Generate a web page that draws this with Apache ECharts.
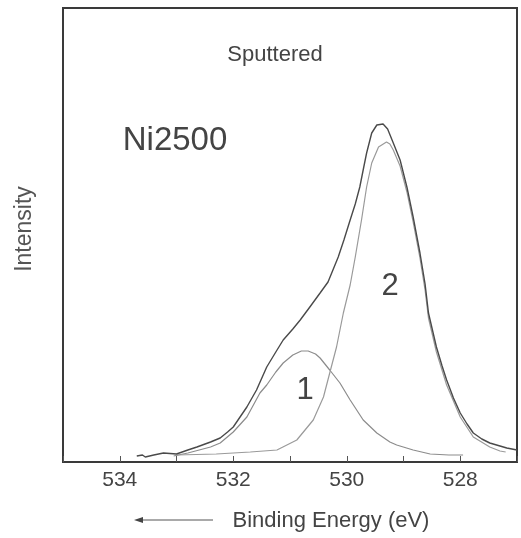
<!DOCTYPE html>
<html>
<head>
<meta charset="utf-8">
<script src="https://cdn.jsdelivr.net/npm/echarts@6/dist/echarts.min.js"></script>
<style>
html,body{margin:0;padding:0;background:#fff;}
#chart{width:521px;height:538px;}
</style>
</head>
<body>
<div id="chart"></div>
<script>
// Binding energy (eV) and intensity (arb. units)
var totalBE = [533.70,533.60,533.55,533.40,533.23,533.00,532.80,532.64,532.40,532.23,532.10,532.00,531.88,531.76,531.59,531.41,531.25,531.12,530.95,530.82,530.65,530.47,530.33,530.15,530.05,529.94,529.85,529.77,529.70,529.65,529.56,529.47,529.36,529.28,529.18,529.06,528.94,528.83,528.71,528.62,528.56,528.42,528.32,528.24,528.12,528.00,527.88,527.77,527.62,527.48,527.30,527.18,527.00];
var totalI  = [6,7,5,7,9,8,12,15,20,24,30,35,45,55,72,95,110,122,133,142,155,169,180,205,222,242,258,275,295,309,329,337,338,333,319,302,275,245,209,178,149,115,96,82,64,49,38,29,23,19,16,14,12];

var comp1BE = [533.05,532.80,532.60,532.40,532.23,532.00,531.76,531.53,531.41,531.25,531.12,530.95,530.80,530.68,530.55,530.47,530.30,530.12,529.94,529.71,529.47,529.24,529.12,528.83,528.53,528.20,527.95];
var comp1I  = [6,9,12,15,19,30,45,69,77,90,99,107,111,111,108,104,92,79,62,42,29,20,17,12,8,7,7];

var comp2BE = [533.00,532.30,531.70,531.23,530.88,530.59,530.41,530.30,530.18,530.06,529.94,529.85,529.74,529.65,529.56,529.44,529.30,529.24,529.18,529.06,528.94,528.83,528.71,528.62,528.56,528.42,528.24,528.00,527.77,527.48,527.30,527.20];
var comp2I  = [7,8,10,12,22,42,65,89,115,149,177,205,242,275,299,315,320,318,312,296,270,240,204,172,144,110,77,45,25,15,11,10];

var xTicks = [534,532,530,528];

function pairs(xs, ys){ return xs.map(function(x,i){ return [x, ys[i]]; }); }

var chart = echarts.init(document.getElementById('chart'), null, {renderer:'canvas'});
var fontFam = '"Liberation Sans", Arial, Helvetica, sans-serif';
var option = {
  backgroundColor:'#ffffff',
  animation:false,
  grid:{left:63,right:4,top:8,bottom:76,show:true,borderColor:'#3a3a3a',borderWidth:2,backgroundColor:'transparent'},
  xAxis:{
    type:'value', min:527, max:535, interval:1, inverse:true,
    axisLine:{show:false},
    axisTick:{show:true,inside:true,length:6,lineStyle:{color:'#555',width:1}},
    splitLine:{show:false},
    axisLabel:{
      color:'#444', fontSize:21, fontFamily:fontFam, margin:8,
      formatter:function(v){ return xTicks.indexOf(v) >= 0 ? String(v) : ''; }
    }
  },
  yAxis:{
    type:'value', min:0, max:454,
    axisLine:{show:false}, axisTick:{show:false}, axisLabel:{show:false}, splitLine:{show:false}
  },
  series:[
    {type:'line', data:pairs(comp1BE, comp1I), showSymbol:false, lineStyle:{color:'#8c8c8c',width:1.2}, z:2},
    {type:'line', data:pairs(comp2BE, comp2I), showSymbol:false, lineStyle:{color:'#9a9a9a',width:1.2}, z:2},
    {type:'line', data:pairs(totalBE, totalI), showSymbol:false, lineStyle:{color:'#4a4a4a',width:1.4}, z:3}
  ],
  graphic:[
    {type:'text', style:{text:'Sputtered', x:275, y:55, textAlign:'center', textVerticalAlign:'middle', font:'22px '+fontFam, fill:'#444'}},
    {type:'text', style:{text:'Ni2500', x:175, y:141, textAlign:'center', textVerticalAlign:'middle', font:'33px '+fontFam, fill:'#444'}},
    {type:'text', style:{text:'1', x:305, y:390, textAlign:'center', textVerticalAlign:'middle', font:'31px '+fontFam, fill:'#444'}},
    {type:'text', style:{text:'2', x:390, y:286, textAlign:'center', textVerticalAlign:'middle', font:'31px '+fontFam, fill:'#444'}},
    {type:'text', x:25, y:229, rotation:Math.PI/2, style:{text:'Intensity', x:0, y:0, textAlign:'center', textVerticalAlign:'middle', font:'23px '+fontFam, fill:'#555'}},
    {type:'text', style:{text:'Binding Energy (eV)', x:331, y:521, textAlign:'center', textVerticalAlign:'middle', font:'22px '+fontFam, fill:'#444'}},
    {type:'line', shape:{x1:140, y1:520, x2:213, y2:520}, style:{stroke:'#555', lineWidth:1}},
    {type:'polygon', shape:{points:[[134,520],[143,517],[143,523]]}, style:{fill:'#444'}}
  ]
};
chart.setOption(option);
</script>
</body>
</html>
